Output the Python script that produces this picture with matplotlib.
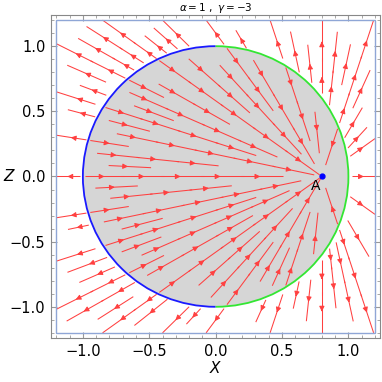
import numpy as np
import matplotlib
matplotlib.use("Agg")
import matplotlib.pyplot as plt
from matplotlib.patches import Circle, Arc, Rectangle
from matplotlib.ticker import MultipleLocator

# parametri del modello
alpha = 1
gamma = -3
point_a = (0.8, 0.0)
radius = 1.0
box = 1.2
lim = 1.24
ticks = [-1.0, -0.5, 0.0, 0.5, 1.0]
tick_labels = ["\u22121.0", "\u22120.5", "0.0", "0.5", "1.0"]

fig = plt.figure(figsize=(3.82, 3.82), dpi=100)
ax = fig.add_axes([0.1335, 0.115, 0.862, 0.846])

# griglia per il campo
xs = np.linspace(-box, box, 241)
zs = np.linspace(-box, box, 241)
X, Z = np.meshgrid(xs, zs)
dx = X - point_a[0]
dz = Z - point_a[1]
inside = X**2 + Z**2 < radius**2

# disco grigio
ax.add_patch(Circle((0, 0), radius, facecolor="#d6d6d6", edgecolor="none", zorder=0))

# semi lungo raggi uscenti da A (le linee di flusso sono rette per A);
# i raggi si diradano vicino ad A come in uno stream plot
step = 0.3
gap = 0.07
dtheta = np.deg2rad(3.0)
seeds_in, seeds_out = [], []
for j in range(120):
    t = j * dtheta
    c, s = float(np.cos(t)), float(np.sin(t))
    level = 0
    while level < 6 and j % (2 ** (level + 1)) == 0:
        level += 1
    d_min = gap / (dtheta * 2 ** level)
    b = point_a[0] * c + point_a[1] * s
    d_circ = -b + np.sqrt(b**2 - (point_a[0]**2 + point_a[1]**2 - radius**2))
    cands = []
    if abs(c) > 1e-9:
        cands.append(((box if c > 0 else -box) - point_a[0]) / c)
    if abs(s) > 1e-9:
        cands.append(((box if s > 0 else -box) - point_a[1]) / s)
    d_box = min(cands)
    off = (j % 3) * 0.1
    for d in np.arange(d_circ - step / 2 - off, max(d_min, 0.05), -step):
        seeds_in.append((point_a[0] + d * c, point_a[1] + d * s))
    for d in np.arange(d_box - step / 2 - off, max(d_min, d_circ), -step):
        seeds_out.append((point_a[0] + d * c, point_a[1] + d * s))

# linee di flusso: dentro convergono su A, fuori divergono
u_in = np.ma.masked_where(~inside, -dx)
v_in = np.ma.masked_where(~inside, -dz)
u_out = np.ma.masked_where(inside, dx)
v_out = np.ma.masked_where(inside, dz)
for u, v, seeds in [(u_in, v_in, seeds_in), (u_out, v_out, seeds_out)]:
    ax.streamplot(xs, zs, u, v, start_points=np.array(seeds), density=3,
                  color="#ff4040", linewidth=0.75, arrowsize=0.75,
                  arrowstyle="-|>", maxlength=(step + 0.02) / (2 * box),
                  minlength=0.001, broken_streamlines=False, zorder=2)

# bordo del disco
ax.add_patch(Arc((0, 0), 2 * radius, 2 * radius, theta1=90, theta2=270,
                 color="#1a1aff", lw=1.3, zorder=3))
ax.add_patch(Arc((0, 0), 2 * radius, 2 * radius, theta1=-90, theta2=90,
                 color="#33e633", lw=1.3, zorder=3))

# riquadro della regione
ax.add_patch(Rectangle((-box, -box), 2 * box, 2 * box, fill=False,
                       edgecolor="#8fa6d6", lw=1.0, zorder=4))

ax.plot(*point_a, "o", color="#0000ff", ms=3.5, zorder=5)
ax.text(point_a[0] - 0.05, point_a[1] - 0.07, "A", fontsize=10,
        ha="center", va="center", zorder=5)

ax.set_xlim(-lim, lim)
ax.set_ylim(-lim, lim)
ax.set_xticks(ticks)
ax.set_xticklabels(tick_labels)
ax.set_yticks(ticks)
ax.set_yticklabels(tick_labels)
ax.xaxis.set_minor_locator(MultipleLocator(0.1))
ax.yaxis.set_minor_locator(MultipleLocator(0.1))
ax.tick_params(which="both", direction="in", top=True, right=True,
               color="#999999", labelsize=10.5, pad=4)
ax.tick_params(which="major", length=4)
ax.tick_params(which="minor", length=2)
for sp in ax.spines.values():
    sp.set_color("#888888")

ax.set_xlabel("$X$", fontsize=11, labelpad=1)
ax.set_ylabel("$Z$", fontsize=11, rotation=0, va="center")
ax.yaxis.set_label_coords(-0.125, 0.5)
ax.set_title(r"$\alpha = 1\ ,\ \gamma = -3$", fontsize=7.5, pad=3)

fig.savefig("out.png", dpi=100)
